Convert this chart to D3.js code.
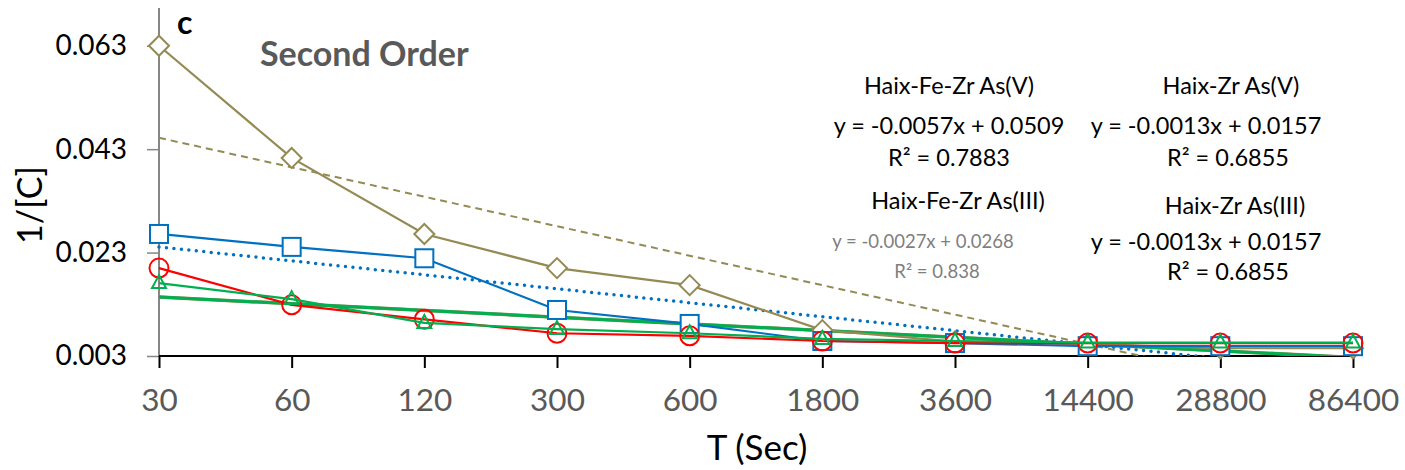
<!DOCTYPE html>
<html>
<head>
<meta charset="utf-8">
<script src="https://cdn.jsdelivr.net/npm/d3@7"></script>
<style>
  html, body { margin: 0; padding: 0; background: #fff; }
  svg { display: block; font-family: Lato, "Open Sans", sans-serif; }
</style>
</head>
<body>
<svg id="chart" width="1405" height="470"></svg>
<script>
// Contact time categories (s)
const times = ["30", "60", "120", "300", "600", "1800", "3600", "14400", "28800", "86400"];
const yTicks = [0.003, 0.023, 0.043, 0.063];

// 1/[C] values per sorbent / arsenic species
const feZrAsV   = [0.0630, 0.0413, 0.0266, 0.0200, 0.0167, 0.0080, 0.0058, 0.0053, 0.0045, 0.0045];
const feZrAsIII = [0.0266, 0.0241, 0.0219, 0.0119, 0.0092, 0.0059, 0.0055, 0.0049, 0.0049, 0.0049];
const zrAsV     = [0.0200, 0.0129, 0.0101, 0.0074, 0.0069, 0.0059, 0.0055, 0.0055, 0.0055, 0.0055];
const zrAsIII   = [0.0171, 0.0140, 0.0094, 0.0082, 0.0074, 0.0063, 0.0059, 0.0056, 0.0056, 0.0056];

// Linear trendlines (x = category index starting at 1): [slope, intercept]
const trendFeZrAsV   = [-0.0057, 0.0509];
const trendFeZrAsIII = [-0.0027, 0.0268];
const trendZrAsV     = [-0.0013, 0.0157];
const trendZrAsIII   = [-0.0013, 0.0157];

const C = { olive: "#948A54", blue: "#0070C0", red: "#FF0000", green: "#00B050" };

const svg = d3.select("#chart");
const plotLeft = 159, plotRight = 1353, plotTop = 8, plotBottom = 356;

const x = d3.scalePoint().domain(times).range([plotLeft, plotRight]);
const xIdx = d3.scaleLinear().domain([1, times.length]).range([plotLeft, plotRight]);
const y = d3.scaleLinear().domain([0.003, 0.0703]).range([plotBottom, plotTop]);

svg.append("defs").append("clipPath").attr("id", "plot")
  .append("rect").attr("x", plotLeft - 20).attr("y", plotTop)
  .attr("width", plotRight - plotLeft + 60).attr("height", plotBottom - plotTop);

// Y axis
const yAxis = svg.append("g").attr("transform", `translate(${plotLeft},0)`)
  .call(d3.axisLeft(y).tickValues(yTicks).tickFormat(d3.format(".3f")).tickSize(12).tickPadding(20));
yAxis.select(".domain").remove();
yAxis.selectAll(".tick line").attr("stroke", "#868686").attr("stroke-width", 1.5);
yAxis.selectAll(".tick text").attr("fill", "#000").style("font-size", "28px")
  .attr("font-family", "Lato, sans-serif");
svg.append("line").attr("x1", plotLeft).attr("x2", plotLeft).attr("y1", plotTop).attr("y2", plotBottom)
  .attr("stroke", "#868686").attr("stroke-width", 2);

// X axis
const xAxis = svg.append("g").attr("transform", `translate(0,${plotBottom})`)
  .call(d3.axisBottom(x).tickSize(12).tickPadding(21).tickSizeOuter(0));
xAxis.select(".domain").attr("stroke", "#000").attr("stroke-width", 2)
  .attr("d", `M${plotLeft},0H${plotRight + 3}`);
xAxis.selectAll(".tick line").attr("stroke", "#000").attr("stroke-width", 2);
xAxis.selectAll(".tick text").attr("fill", "#595959").style("font-size", "31.5px")
  .attr("font-family", "Lato, sans-serif");

// Axis titles
svg.append("text").attr("x", 757).attr("y", 460).attr("text-anchor", "middle")
  .style("font-size", "35px").attr("fill", "#000").text("T (Sec)");
svg.append("text").attr("transform", "translate(42,205) rotate(-90)").attr("text-anchor", "middle")
  .style("font-size", "34px").attr("fill", "#000").text("1/[C]");

const line = d3.line().x((d, i) => x(times[i])).y(d => y(d));
const plot = svg.append("g").attr("clip-path", "url(#plot)");

const symbols = {
  diamond: (g, cx, cy, col) => g.append("path")
    .attr("d", `M${cx},${cy - 10}L${cx + 10},${cy}L${cx},${cy + 10}L${cx - 10},${cy}Z`)
    .attr("fill", "#fff").attr("stroke", col).attr("stroke-width", 2),
  square: (g, cx, cy, col) => g.append("rect")
    .attr("x", cx - 9).attr("y", cy - 9).attr("width", 18).attr("height", 18)
    .attr("fill", "#fff").attr("stroke", col).attr("stroke-width", 2),
  circle: (g, cx, cy, col) => g.append("circle")
    .attr("cx", cx).attr("cy", cy).attr("r", 9.5)
    .attr("fill", "none").attr("stroke", col).attr("stroke-width", 2),
  triangle: (g, cx, cy, col) => g.append("path")
    .attr("d", `M${cx},${cy - 8}L${cx + 7},${cy + 5}L${cx - 7},${cy + 5}Z`)
    .attr("fill", "none").attr("stroke", col).attr("stroke-width", 2)
};

const series = [
  { values: feZrAsV, color: C.olive, shape: "diamond" },
  { values: feZrAsIII, color: C.blue, shape: "square" },
  { values: zrAsV, color: C.red, shape: "circle" },
  { values: zrAsIII, color: C.green, shape: "triangle" }
];

series.forEach(s => {
  const g = svg.append("g");
  g.append("path").attr("d", line(s.values)).attr("fill", "none")
    .attr("stroke", s.color).attr("stroke-width", 2.2);
  s.values.forEach((v, i) => symbols[s.shape](g, x(times[i]), y(v), s.color));
});

// Trendlines
function trend(coef) {
  const [m, b] = coef;
  return d3.line().x(d => xIdx(d)).y(d => y(m * d + b))([1, times.length]);
}
plot.append("path").attr("d", trend(trendFeZrAsV)).attr("fill", "none")
  .attr("stroke", C.olive).attr("stroke-width", 2).attr("stroke-dasharray", "7 5");
plot.append("path").attr("d", trend(trendFeZrAsIII)).attr("fill", "none")
  .attr("stroke", C.blue).attr("stroke-width", 3.5).attr("stroke-linecap", "round")
  .attr("stroke-dasharray", "0 7.5");
plot.append("path").attr("d", trend(trendZrAsV)).attr("fill", "none")
  .attr("stroke", C.olive).attr("stroke-width", 3.5);
plot.append("path").attr("d", trend(trendZrAsIII)).attr("fill", "none")
  .attr("stroke", C.green).attr("stroke-width", 3);

// Panel letter and title
svg.append("text").attr("x", 177).attr("y", 34).style("font-size", "32px")
  .style("font-weight", "bold").attr("fill", "#000").text("c");
svg.append("text").attr("x", 260).attr("y", 66).style("font-size", "34px")
  .style("font-weight", "bold").attr("fill", "#595959").text("Second Order");

// Trendline equations
const labels = [
  { t: "Haix-Fe-Zr As(V)", cx: 949, y: 94, size: 23.5, fill: "#000" },
  { t: "y = -0.0057x + 0.0509", cx: 949, y: 134, size: 23.5, fill: "#000" },
  { t: "R² = 0.7883", cx: 949, y: 166, size: 23.5, fill: "#000" },
  { t: "Haix-Fe-Zr As(III)", cx: 958, y: 209, size: 23.5, fill: "#000" },
  { t: "y = -0.0027x + 0.0268", cx: 923, y: 248, size: 18.5, fill: "#7F7F7F" },
  { t: "R² = 0.838", cx: 937, y: 278, size: 18.5, fill: "#7F7F7F" },
  { t: "Haix-Zr As(V)", cx: 1231, y: 94, size: 23.5, fill: "#000" },
  { t: "y = -0.0013x + 0.0157", cx: 1206, y: 134, size: 23.5, fill: "#000" },
  { t: "R² = 0.6855", cx: 1228, y: 166, size: 23.5, fill: "#000" },
  { t: "Haix-Zr As(III)", cx: 1235, y: 214, size: 23.5, fill: "#000" },
  { t: "y = -0.0013x + 0.0157", cx: 1206, y: 250, size: 23.5, fill: "#000" },
  { t: "R² = 0.6855", cx: 1228, y: 280, size: 23.5, fill: "#000" }
];
svg.append("g").selectAll("text").data(labels).join("text")
  .attr("x", d => d.cx).attr("y", d => d.y).attr("text-anchor", "middle")
  .style("font-size", d => d.size + "px").attr("fill", d => d.fill).text(d => d.t);
</script>
</body>
</html>
